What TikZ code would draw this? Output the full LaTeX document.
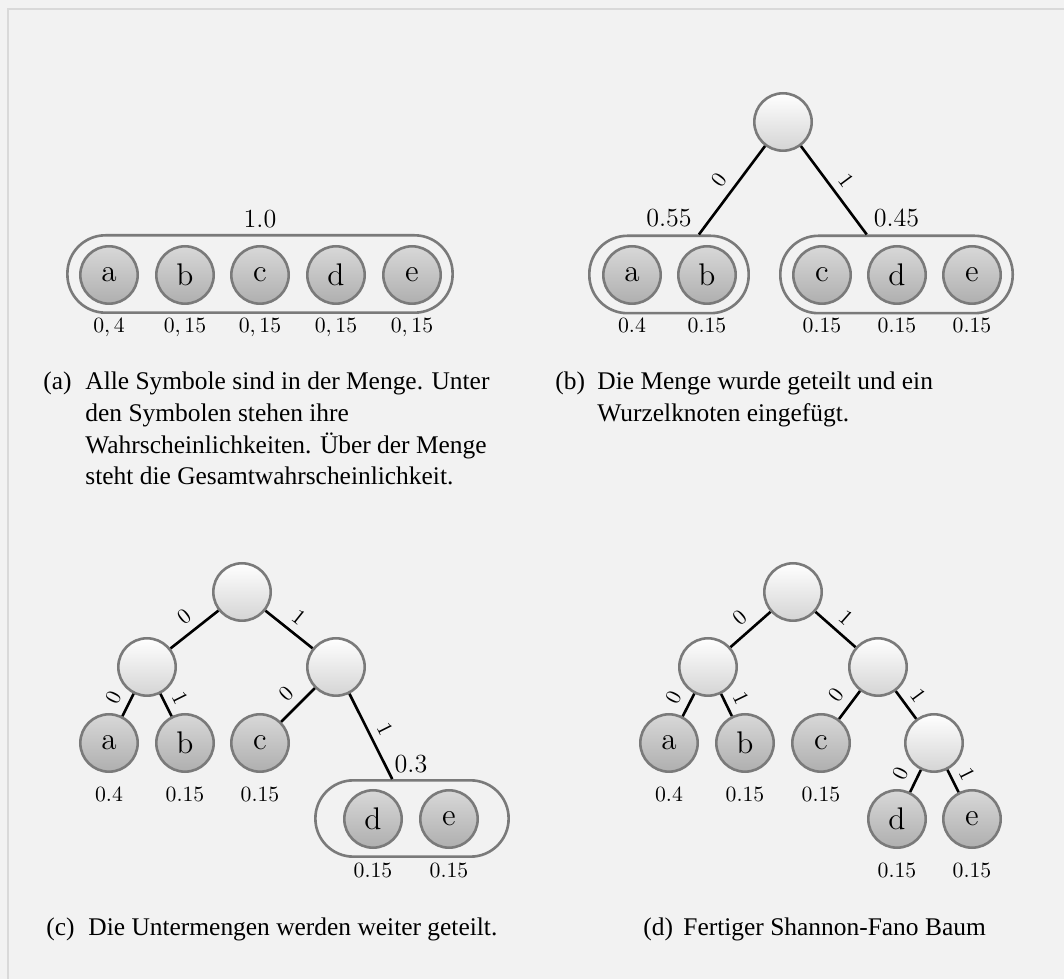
\documentclass[tikz,border=0pt]{standalone}
\usepackage{fontspec}
\newfontfamily\capfont{Liberation Serif}
\definecolor{bgcol}{HTML}{F2F2F2}
\definecolor{framecol}{HTML}{D9D9D9}
\definecolor{nodegray}{HTML}{7A7A7A}
\definecolor{leaftop}{HTML}{D8D8D8}
\definecolor{leafbot}{HTML}{AFAFAF}
\definecolor{innerbot}{HTML}{D4D4D4}
\begin{document}
\begin{tikzpicture}[x=0.46pt,y=-0.46pt,
  leafnode/.style={circle,draw=nodegray,line width=1.2pt,minimum size=26.4pt,inner sep=0pt,top color=leaftop,bottom color=leafbot,font=\Large},
  innode/.style={circle,draw=nodegray,line width=1.2pt,minimum size=26.4pt,inner sep=0pt,top color=white,bottom color=innerbot},
  setbox/.style={rectangle,draw=nodegray,line width=1.2pt,minimum height=35.6pt,rounded corners=17.5pt,inner sep=0pt},
  setlabel/.style={font=\large,anchor=base,inner sep=0pt},
  prob/.style={anchor=base,inner sep=0pt},
  conn/.style={line width=1.2pt,black},
  bit/.style={midway,sloped,above,font=\normalsize,inner sep=3.5pt},
  captxt/.style={font=\capfont\fontsize{11.7pt}{14pt}\selectfont,anchor=base west,inner sep=0pt},
]
\useasboundingbox (0,0) rectangle (1064,979);
\fill[bgcol] (0,0) rectangle (1064,979);
\draw[framecol,line width=0.6pt] (8,979) -- (8,9) -- (1064,9);

% ---------------- (a)
\node[setbox,minimum width=177.2pt] (aS) at (260,274) {};
\node[setlabel] (aSl) at (260,228) {1.0};
\node[leafnode] (aa) at (109,275) {a};
\node[leafnode] (ab) at (185,275) {b};
\node[leafnode] (ac) at (260,275) {c};
\node[leafnode] (ad) at (336,275) {d};
\node[leafnode] (ae) at (412,275) {e};
\node[prob] (pa1) at (109,333) {$0,4$};
\node[prob] (pa2) at (185,333) {$0,15$};
\node[prob] (pa3) at (260,333) {$0,15$};
\node[prob] (pa4) at (336,333) {$0,15$};
\node[prob] (pa5) at (412,333) {$0,15$};

% ---------------- (b)
\node[innode] (bR) at (783,122) {};
\node[setbox,minimum width=73.3pt] (bS1) at (669,274.5) {};
\node[setbox,minimum width=106.9pt] (bS2) at (896.5,274.5) {};
\node[setlabel] (bS1l) at (669,227) {0.55};
\node[setlabel] (bS2l) at (896.5,227) {0.45};
\node[leafnode] (ba) at (632,275) {a};
\node[leafnode] (bb) at (707,275) {b};
\node[leafnode] (bc) at (822,275) {c};
\node[leafnode] (bd) at (897,275) {d};
\node[leafnode] (be) at (972,275) {e};
\node[prob] (pb1) at (632,333) {0.4};
\node[prob] (pb2) at (707,333) {0.15};
\node[prob] (pb3) at (822,333) {0.15};
\node[prob] (pb4) at (897,333) {0.15};
\node[prob] (pb5) at (972,333) {0.15};
\draw[conn] (bR) -- (bS1) node[bit] (bl0) {0};
\draw[conn] (bR) -- (bS2) node[bit] (bl1) {1};

% ---------------- (c)
\node[innode] (cR) at (242,592) {};
\node[innode] (cL) at (147,667) {};
\node[innode] (cRR) at (336,667) {};
\node[leafnode] (ca) at (109,743) {a};
\node[leafnode] (cb) at (185,743) {b};
\node[leafnode] (cc) at (260,743) {c};
\node[setbox,minimum width=88.9pt,minimum height=35.1pt] (cS) at (412,818.5) {};
\node[setlabel] (cSl) at (411,773) {0.3};
\node[leafnode] (cd) at (373,819) {d};
\node[leafnode] (ce) at (449,819) {e};
\node[prob] (pc1) at (109,802) {0.4};
\node[prob] (pc2) at (185,802) {0.15};
\node[prob] (pc3) at (260,802) {0.15};
\node[prob] (pc4) at (373,877) {0.15};
\node[prob] (pc5) at (449,877) {0.15};
\draw[conn] (cR) -- (cL) node[bit] (cl1) {0};
\draw[conn] (cR) -- (cRR) node[bit] (cl2) {1};
\draw[conn] (cL) -- (ca) node[bit] (cl3) {0};
\draw[conn] (cL) -- (cb) node[bit] (cl4) {1};
\draw[conn] (cRR) -- (cc) node[bit] (cl5) {0};
\draw[conn] (cRR) -- (cS) node[bit] (cl6) {1};

% ---------------- (d)
\node[innode] (dR) at (793,592) {};
\node[innode] (dL) at (708,667) {};
\node[innode] (dRR) at (878,667) {};
\node[innode] (dI) at (934,743) {};
\node[leafnode] (da) at (669,743) {a};
\node[leafnode] (db) at (745,743) {b};
\node[leafnode] (dc) at (821,743) {c};
\node[leafnode] (dd) at (897,819) {d};
\node[leafnode] (de) at (972,819) {e};
\node[prob] (pd1) at (669,802) {0.4};
\node[prob] (pd2) at (745,802) {0.15};
\node[prob] (pd3) at (821,802) {0.15};
\node[prob] (pd4) at (897,877) {0.15};
\node[prob] (pd5) at (972,877) {0.15};
\draw[conn] (dR) -- (dL) node[bit] (dl1) {0};
\draw[conn] (dR) -- (dRR) node[bit] (dl2) {1};
\draw[conn] (dL) -- (da) node[bit] (dl3) {0};
\draw[conn] (dL) -- (db) node[bit] (dl4) {1};
\draw[conn] (dRR) -- (dc) node[bit] (dl5) {0};
\draw[conn] (dRR) -- (dI) node[bit] (dl6) {1};
\draw[conn] (dI) -- (dd) node[bit] (dl7) {0};
\draw[conn] (dI) -- (de) node[bit] (dl8) {1};

% ---------------- captions
\node[captxt] (ca0) at (43,390) {(a)};
\node[captxt] (ca1) at (85,390) {Alle Symbole sind in der Menge. Unter};
\node[captxt] (ca2) at (85,421.7) {den Symbolen stehen ihre};
\node[captxt] (ca3) at (85,453.4) {Wahrscheinlichkeiten. Über der Menge};
\node[captxt] (ca4) at (85,485) {steht die Gesamtwahrscheinlichkeit.};
\node[captxt] (cb0) at (555,390) {(b)};
\node[captxt] (cb1) at (597,390) {Die Menge wurde geteilt und ein};
\node[captxt] (cb2) at (597,421.7) {Wurzelknoten eingefügt.};
\node[captxt] (cc0) at (46,935) {(c)};
\node[captxt] (cc1) at (88,935) {Die Untermengen werden weiter geteilt.};
\node[captxt] (cd0) at (643,935) {(d)};
\node[captxt] (cd1) at (683,935) {Fertiger Shannon-Fano Baum};
\end{tikzpicture}
\end{document}
